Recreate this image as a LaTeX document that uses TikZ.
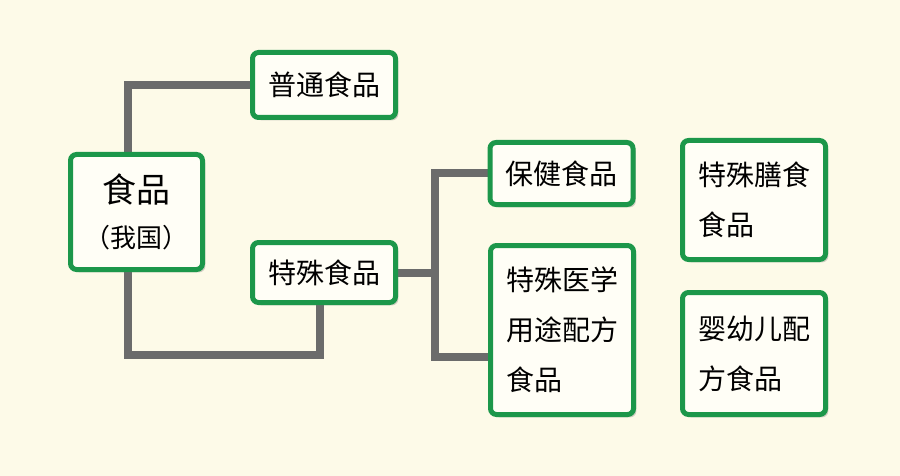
\documentclass[tikz,border=0pt]{standalone}
\usepackage{fontspec}
\setmainfont{Noto Sans CJK SC}
\usepackage{tikz}
\usetikzlibrary{positioning, calc, shadows, backgrounds}
\definecolor{figbg}{HTML}{FDFAE8}
\definecolor{figfill}{HTML}{FFFEF6}
\definecolor{figgreen}{HTML}{1C974A}
\definecolor{figgray}{HTML}{6B6B6B}
\tikzset{
  catbox/.style={draw=figgreen, line width=2.5pt, rounded corners=3pt, fill=figfill,
    inner sep=0pt, minimum width=71.5pt,
    drop shadow={shadow xshift=1.4pt, shadow yshift=-1.4pt, opacity=0.35},
    font=\fontsize{14pt}{25pt}\selectfont},
  cattext/.style={align=left, text width=56pt},
  catlink/.style={draw=figgray, line width=4pt},
}

\begin{document}
\begin{tikzpicture}[x=0.5pt, y=-0.5pt]
  \useasboundingbox (0,0) rectangle (900,476);
  \node[catbox, minimum width=66pt, minimum height=57.5pt, align=center,
    font=\fontsize{13pt}{22.5pt}\selectfont] (root) at (136.5,212)
    {{\fontsize{17pt}{22.5pt}\selectfont 食品}\\（我国）};
  \node[catbox, minimum height=32.5pt] (putong) at (324,85) {普通食品};
  \node[catbox, minimum height=30pt] (teshu) at (324,272.5) {特殊食品};
  % 特殊食品分类
  \node[catbox, minimum height=31pt] (baojian) at (561.5,173.5) {保健食品};
  \node[catbox, minimum height=84.5pt, cattext] (yixue) at (562,330) {特殊医学\\用途配方\\食品};
  \node[catbox, minimum height=59.5pt, cattext] (shanshi) at (754,200) {特殊膳食\\食品};
  \node[catbox, minimum height=61pt, cattext] (yingyou) at (754,353.5) {婴幼儿配\\方食品};
  \coordinate (fork) at (435,272.5);
  \begin{scope}[on background layer]
    \fill[figbg] (0,0) rectangle (900,476);
    \draw[catlink] ([xshift=-4.25pt]root.north) |- (putong.west);
    \draw[catlink] ([xshift=-4.25pt]root.south) -- ++(0,83) -| ([xshift=-2pt]teshu.south);
    \draw[catlink] (teshu.east) -- (fork);
    \draw[catlink] (baojian.west) -| (fork) |- ([yshift=-13.5pt]yixue.west);
  \end{scope}
\end{tikzpicture}
\end{document}
